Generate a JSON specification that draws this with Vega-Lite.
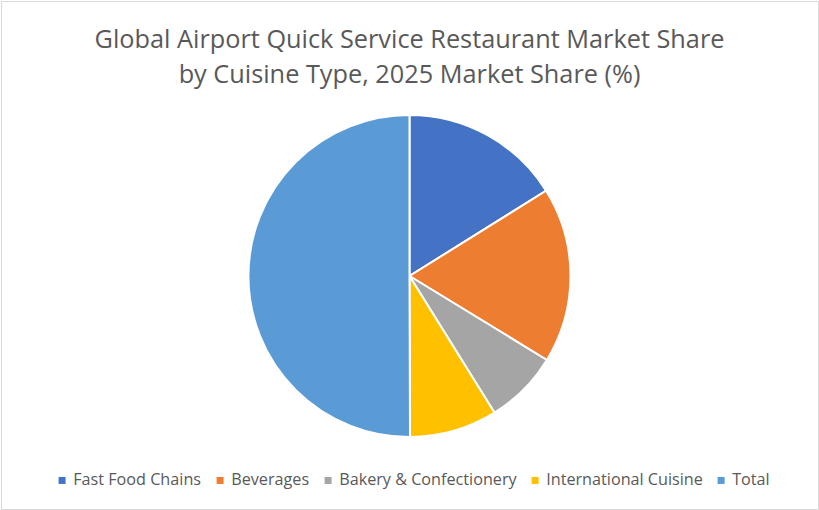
{
  "$schema": "https://vega.github.io/schema/vega-lite/v6.json",
  "width": 817,
  "height": 508,
  "padding": 1,
  "autosize": {"type": "none"},
  "background": "white",
  "view": {"stroke": "#D9D9D9", "strokeWidth": 1},
  "config": {
    "view": {"stroke": "#D9D9D9", "strokeWidth": 1},
    "font": "Open Sans"
  },
  "title": {
    "text": ["Global Airport Quick Service Restaurant Market Share", "by Cuisine Type, 2025 Market Share (%)"],
    "font": "Open Sans",
    "fontSize": 25.3,
    "fontWeight": "normal",
    "color": "#595959",
    "lineHeight": 35,
    "anchor": "middle",
    "offset": -87
  },
  "data": {
    "values": [
      {"Category": "Fast Food Chains", "Share": 16.1, "rank": 1},
      {"Category": "Beverages", "Share": 17.6, "rank": 2},
      {"Category": "Bakery & Confectionery", "Share": 7.4, "rank": 3},
      {"Category": "International Cuisine", "Share": 8.8, "rank": 4},
      {"Category": "Total", "Share": 50.0, "rank": 5}
    ]
  },
  "mark": {
    "type": "arc",
    "outerRadius": 161,
    "stroke": "white",
    "strokeWidth": 2,
    "x": {"expr": "width/2"},
    "y": {"expr": "height/2 + 21"}
  },
  "encoding": {
    "theta": {"field": "Share", "type": "quantitative", "stack": true},
    "order": {"field": "rank", "type": "quantitative"},
    "color": {
      "field": "Category",
      "type": "nominal",
      "sort": null,
      "scale": {
        "domain": ["Fast Food Chains", "Beverages", "Bakery & Confectionery", "International Cuisine", "Total"],
        "range": ["#4472C4", "#ED7D31", "#A5A5A5", "#FFC000", "#5B9BD5"]
      },
      "legend": {
        "title": null,
        "orient": "none",
        "direction": "horizontal",
        "legendX": 53,
        "legendY": 471,
        "symbolType": "square",
        "symbolSize": 49,
        "symbolStrokeWidth": 0,
        "labelFont": "Open Sans",
        "labelFontSize": 16.2,
        "labelColor": "#595959",
        "labelOffset": 3,
        "columnPadding": 10,
        "labelLimit": 300
      }
    }
  }
}
